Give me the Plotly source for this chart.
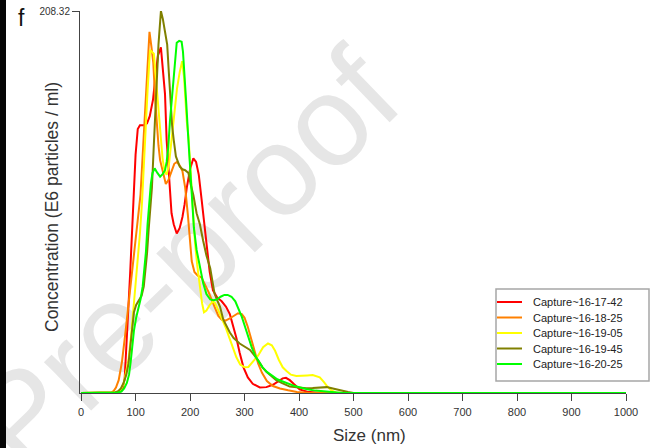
import plotly.graph_objects as go

# ---------------- data ----------------
series_names = ["Capture~16-17-42", "Capture~16-18-25", "Capture~16-19-05",
                "Capture~16-19-45", "Capture~16-20-25"]
series_colors = ["#ff0000", "#ff8000", "#ffff00", "#808000", "#00ff00"]

red_x = [0, 50, 64, 70, 76, 80, 84, 90, 96, 100, 104, 108, 116, 121, 126, 132, 137, 141,
         146.5, 151, 154, 157, 160, 163, 166, 170, 175.5, 181, 186, 190, 194, 200, 206,
         211, 216, 221, 226, 231, 236, 242, 250, 258, 266, 273, 279, 285, 291, 298, 306,
         315, 328, 340, 352, 362, 370, 376, 383, 390, 401, 415, 440, 1000]
red_y = [0, 0, 0.2, 0.5, 2, 8, 30, 65, 104, 130, 144, 146, 146, 147, 151, 160, 174, 184,
         188.5, 174, 163, 138, 125, 112, 98, 92, 87, 90, 96, 103, 112, 122, 128,
         126, 119, 106, 92, 78, 66, 56, 52, 50, 47, 43, 37, 30, 22, 14, 8.5,
         5, 3, 3.2, 4.5, 6.5, 8, 8.3, 7, 5, 2, 0.7, 0, 0]

orange_x = [0, 50, 56, 60, 64, 69, 75, 81, 87, 93, 99, 104, 109, 114, 118, 122, 125.5,
            129, 132.5, 136, 139, 142, 145, 150, 155.5, 160, 165, 171, 176, 181, 186,
            191, 196, 200, 203, 208, 214, 221, 228, 234, 245, 252, 258, 265, 272, 280,
            288, 295, 300, 306, 312, 318, 325, 332, 341, 352, 365, 380, 396, 420, 1000]
orange_y = [0, 0, 0.4, 1.2, 3, 7, 17, 32, 48, 64, 80, 92, 108, 135, 155, 178, 197,
            189, 180, 160, 147, 135, 127, 120, 114, 116, 120, 125, 126, 124, 121,
            112, 97, 82, 72, 66, 64, 63, 59, 55, 47, 42, 40, 39.5, 40.5, 42,
            43.5, 43, 41, 36, 30, 24, 16, 11, 6.5, 3.8, 2.5, 1.5, 0.6, 0, 0]

yellow_x = [0, 55, 64, 70, 74, 78, 82, 87, 92, 96, 101, 105, 108, 112, 115, 118, 122,
            126.5, 130, 133.5, 137, 141, 145, 149.5, 153, 157, 161, 166, 171, 176, 181,
            185.5, 189, 191, 194, 197, 200, 203, 209, 213, 218, 222, 225.5, 230, 236,
            242, 246, 252, 258, 265, 271, 278, 285, 292, 300, 307, 316, 325, 334, 343,
            350, 356, 363, 370, 377, 385, 395, 405, 415, 425, 432, 438, 445, 452, 460,
            468, 480, 1000]
yellow_y = [0, 0, 0.3, 1, 2.5, 5, 10, 18, 32, 45, 62, 75, 87, 105, 125, 142, 165,
            187, 186, 185, 173, 158, 142, 128, 121, 119, 124, 137, 153, 166, 175,
            181, 172, 162, 148, 140, 124, 108, 82, 70, 58, 49, 44, 45, 48,
            50, 49, 45, 41, 36, 31, 25, 19.5, 15.5, 14, 14.2, 17.5, 20.5, 25, 27,
            26, 23, 18, 14, 12, 10, 9.3, 9.3, 9.6, 9.8, 9.3, 8.5, 6.2, 3.5, 1.3,
            0.3, 0, 0]

olive_x = [0, 55, 62, 68, 73, 78, 83, 87, 91, 94, 97, 101, 106, 111, 115, 118, 121,
           124, 127, 130, 133, 136, 139, 142, 146.5, 150, 154, 158, 161, 164, 167, 170,
           174, 181, 186, 191, 197, 201, 206, 212, 218, 224, 230, 237, 245, 255, 261,
           273, 280, 291, 300, 310, 318, 325, 333, 340, 348, 358, 368, 383, 400, 413,
           425, 438, 451, 462, 472, 480, 490, 500, 1000]
olive_y = [0, 0, 0.3, 1, 2.5, 5.5, 10, 16, 26, 36, 44, 48, 50.5, 53, 58, 66, 76,
           89, 100, 112, 132, 152, 174, 190, 208.3, 204, 197, 190, 175, 160, 146, 138,
           129, 123.5, 122, 121.5, 120, 114, 108, 98, 92, 83, 75, 68, 54, 47, 40,
           33, 30, 27, 25.5, 23.5, 20.5, 17.8, 14, 11.5, 9.5, 7, 5.5, 3.5, 3, 2.6,
           2.7, 3, 3.2, 2.5, 1.7, 1.1, 0.5, 0, 0]

green_x = [0, 60, 68, 74, 79, 84, 88, 91, 94, 97, 101, 105, 109, 113, 116, 119, 122,
           125, 128, 131, 135, 140, 145, 150, 154, 157, 160, 163, 166, 169, 172, 175.5,
           180, 184.5, 187, 190, 193, 196.5, 200, 203, 207, 212, 218, 224, 230, 237,
           243, 249, 256, 263, 269, 276, 283, 289, 295, 301, 307, 313, 320, 326, 333,
           341, 350, 360, 370, 380, 390, 402, 415, 430, 445, 460, 480, 1000]
green_y = [0, 0, 0.3, 0.8, 2.5, 5.5, 10, 17, 26, 34, 41, 46, 51, 58, 66, 77, 92,
           104, 114, 120, 122.5, 120, 118, 119.5, 121.5, 126, 134, 148, 158, 170, 182, 191,
           192, 191.5, 186, 174, 158, 140, 122, 105, 90, 78, 68, 60, 54, 51,
           50.6, 51, 52.5, 53.5, 53.5, 52.5, 50, 46, 41.5, 36, 30, 25, 20, 17, 14,
           11.5, 9.5, 7.5, 6.3, 5, 4, 3, 2, 1.3, 0.8, 0.4, 0, 0]

series_x = [red_x, orange_x, yellow_x, olive_x, green_x]
series_y = [red_y, orange_y, yellow_y, olive_y, green_y]

x_ticks = [0, 100, 200, 300, 400, 500, 600, 700, 800, 900, 1000]
y_max = 208.32
x_title = "Size (nm)"
y_title = "Concentration (E6 particles / ml)"
panel_label = "f"
watermark = "Pre-proof"

# ---------------- layout geometry (pixels) ----------------
W, H = 661, 448
ML, MR, MT, MB = 80, 35, 11, 55
PW, PH = W - ML - MR, H - MT - MB


def px(xp):
    return (xp - ML) / PW


def py(yp):
    return (H - MB - yp) / PH


FONT = "Arial, Liberation Sans, sans-serif"

fig = go.Figure()
for name, col, xs, ys in zip(series_names, series_colors, series_x, series_y):
    fig.add_trace(go.Scatter(x=xs, y=ys, mode="lines", name=name,
                             line=dict(color=col, width=2), showlegend=False,
                             hoverinfo="skip"))

shapes = []
annotations = []

# watermark (below data)
wm_cx, wm_cy = 176, 250
shapes.append(dict(type="rect", xref="paper", yref="paper",
                   x0=px(wm_cx - 250), x1=px(wm_cx + 250), y0=py(wm_cy + 250), y1=py(wm_cy - 250),
                   line=dict(width=0), fillcolor="rgba(0,0,0,0)", layer="below",
                   label=dict(text=watermark, textangle=-44, textposition="middle center",
                              font=dict(family=FONT, size=128, color="#e6e6e6"))))

# black scan edge on the left
shapes.append(dict(type="rect", xref="paper", yref="paper",
                   x0=px(0), x1=px(6), y0=py(H), y1=py(0),
                   line=dict(width=0), fillcolor="#050505", layer="above"))

# legend box (manual, built from the series lists)
lg_x0, lg_x1, lg_y0, lg_y1 = 496, 649, 289, 381
shapes.append(dict(type="rect", xref="paper", yref="paper",
                   x0=px(lg_x0), x1=px(lg_x1), y0=py(lg_y1), y1=py(lg_y0),
                   line=dict(color="#a6a6a6", width=1.5), fillcolor="white", layer="above"))
for i, (name, col) in enumerate(zip(series_names, series_colors)):
    yy = 302 + i * 15.5
    shapes.append(dict(type="line", xref="paper", yref="paper",
                       x0=px(497), x1=px(522), y0=py(yy), y1=py(yy),
                       line=dict(color=col, width=2), layer="above"))
    annotations.append(dict(xref="paper", yref="paper", x=px(531), y=py(yy),
                            xanchor="left", yanchor="middle", text=name, showarrow=False,
                            font=dict(family=FONT, size=11, color="#222")))

# titles
annotations.append(dict(xref="paper", yref="paper", x=px(369), y=py(435),
                        xanchor="center", yanchor="middle", text=x_title, showarrow=False,
                        font=dict(family=FONT, size=17, color="#333")))
annotations.append(dict(xref="paper", yref="paper", x=px(52), y=py(207),
                        xanchor="center", yanchor="middle", text=y_title, showarrow=False,
                        textangle=-90, font=dict(family=FONT, size=17.5, color="#333")))
annotations.append(dict(xref="paper", yref="paper", x=px(21), y=py(18),
                        xanchor="center", yanchor="middle", text=panel_label, showarrow=False,
                        font=dict(family=FONT, size=23, color="#111")))

fig.update_layout(
    width=W, height=H,
    margin=dict(l=ML, r=MR, t=MT, b=MB, pad=0, autoexpand=False),
    paper_bgcolor="white", plot_bgcolor="rgba(0,0,0,0)",
    showlegend=False,
    shapes=shapes, annotations=annotations,
    xaxis=dict(range=[-2, 1000], tickvals=x_ticks, ticktext=[str(t) for t in x_ticks],
               showgrid=False, zeroline=False, showline=True, linecolor="#444",
               linewidth=1, ticks="outside", ticklen=7, tickcolor="#444",
               tickfont=dict(family=FONT, size=11, color="#333"),
               ticklabelstandoff=2, fixedrange=True, automargin=False),
    yaxis=dict(range=[0, y_max], tickvals=[y_max], ticktext=["208.32"],
               showgrid=False, zeroline=False, showline=True, linecolor="#444",
               linewidth=1, ticks="outside", ticklen=7, tickcolor="#444",
               tickfont=dict(family=FONT, size=10, color="#333"), fixedrange=True,
               automargin=False),
)

fig.write_html("out.html", config={"displayModeBar": False},
               post_script="document.body.style.margin='0';document.body.style.overflow='hidden';")
